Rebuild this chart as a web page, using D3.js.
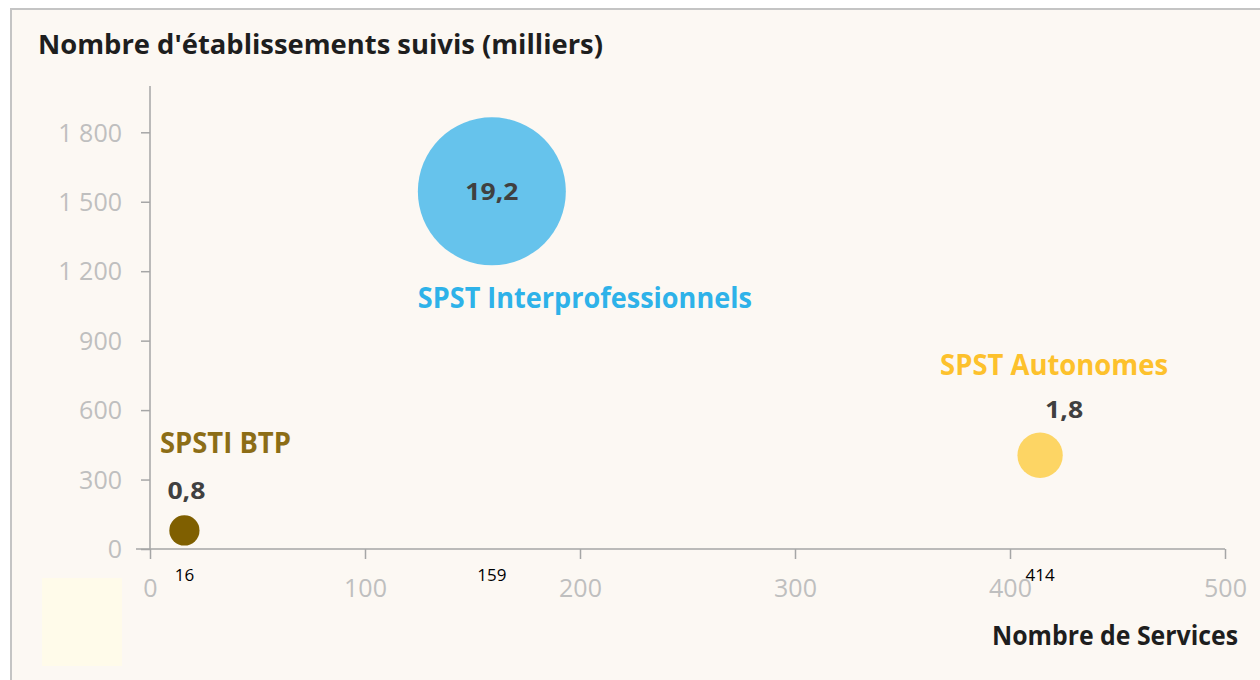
<!DOCTYPE html>
<html>
<head>
<meta charset="utf-8">
<script src="https://cdn.jsdelivr.net/npm/d3@7"></script>
<style>
  body { margin: 0; background: #fff; }
  svg { display: block; font-family: "Open Sans", sans-serif; }
</style>
</head>
<body>
<div id="chart"></div>
<script>
// données
const categories = ['SPSTI BTP', 'SPST Interprofessionnels', 'SPST Autonomes'];
const services = [16, 159, 414];            // nombre de services (axe x)
const etablissements = [80, 1545, 405];     // établissements suivis, milliers (axe y)
const salaries = [0.8, 19.2, 1.8];          // taille des bulles
const colors = ['#7f5f00', '#66c3ec', '#fdd564'];
const labelColors = ['#8c6d16', '#2eb2e9', '#fdc12c'];
const xTicks = [0, 100, 200, 300, 400, 500];
const yTicks = [0, 300, 600, 900, 1200, 1500, 1800];

const W = 1260, H = 680;
const margin = {left: 150, right: 35, top: 86, bottom: 131};

const fr = d3.formatLocale({decimal: ',', thousands: ' ', grouping: [3], currency: ['', ' €']});

const svg = d3.select('#chart').append('svg')
    .attr('width', W)
    .attr('height', H);

// fond + cadre
svg.append('rect')
    .attr('x', 11).attr('y', 9)
    .attr('width', W).attr('height', H)
    .attr('fill', '#fcf8f3')
    .attr('stroke', '#c4c4c4')
    .attr('stroke-width', 2);

// petit carré jaune pâle en bas à gauche
svg.append('rect')
    .attr('x', 42).attr('y', 578)
    .attr('width', 80).attr('height', 88)
    .attr('fill', '#fffbea');

// échelles
const x = d3.scaleLinear().domain([0, 500]).range([margin.left, W - margin.right]);
const y = d3.scaleLinear().domain([0, 2000]).range([H - margin.bottom, margin.top]);
const r = d3.scaleSqrt().domain([0, d3.max(salaries)]).range([0, 74]);

// axes
const xAxis = d3.axisBottom(x).tickValues(xTicks).tickSize(10).tickSizeOuter(0).tickPadding(20);
const yAxis = d3.axisLeft(y).tickValues(yTicks).tickSize(9).tickSizeOuter(0).tickPadding(19)
    .tickFormat(fr.format(','));

const gx = svg.append('g')
    .attr('transform', `translate(0,${y(0)})`)
    .call(xAxis);
const gy = svg.append('g')
    .attr('transform', `translate(${x(0)},0)`)
    .call(yAxis);

[gx, gy].forEach(g => {
    g.select('.domain').attr('stroke', '#a6a6a6').attr('stroke-width', 1.5);
    g.selectAll('.tick line').attr('stroke', '#a6a6a6').attr('stroke-width', 1.5);
    g.selectAll('.tick text')
        .attr('fill', '#bfbfbf')
        .style('font-size', '25px')
        .style('font-family', '"Open Sans", sans-serif');
});
gy.selectAll('.tick text').attr('dy', '0.35em');
gy.select('.domain').attr('d', `M0,${y(0)}V${margin.top}`);
gx.select('.domain').attr('d', `M${x(0) - 14},0H${x(500)}`);

// titres
svg.append('text')
    .attr('x', 38).attr('y', 54)
    .attr('fill', '#1e1e1e')
    .attr('font-weight', 700)
    .attr('font-size', 26)
    .attr('textLength', 565)
    .attr('lengthAdjust', 'spacingAndGlyphs')
    .text("Nombre d'établissements suivis (milliers)");

svg.append('text')
    .attr('x', 992).attr('y', 645)
    .attr('fill', '#1e1e1e')
    .attr('font-weight', 700)
    .attr('font-size', 26)
    .attr('textLength', 246)
    .attr('lengthAdjust', 'spacingAndGlyphs')
    .text('Nombre de Services');

// bulles
const data = categories.map((c, i) => ({
    name: c, sx: services[i], ey: etablissements[i], size: salaries[i],
    color: colors[i], labelColor: labelColors[i]
}));

// position des étiquettes par rapport au centre de la bulle
const labelLayout = [
    {vdx: 2, vdy: -31, ndx: 41, ndy: -77, nw: 131},
    {vdx: 0, vdy: 9, ndx: 93, ndy: 117, nw: 334},
    {vdx: 24, vdy: -37, ndx: 14, ndy: -80, nw: 228}
];

const bubble = svg.selectAll('.bubble').data(data).enter()
    .append('g')
    .attr('class', 'bubble')
    .attr('transform', d => `translate(${x(d.sx)},${y(d.ey)})`);

bubble.append('circle')
    .attr('r', d => r(d.size))
    .attr('fill', d => d.color);

bubble.append('text')
    .attr('x', (d, i) => labelLayout[i].vdx)
    .attr('y', (d, i) => labelLayout[i].vdy)
    .attr('text-anchor', 'middle')
    .attr('font-weight', 700)
    .attr('font-size', 24)
    .attr('fill', '#404040')
    .attr('textLength', d => d.size >= 10 ? 53 : 38)
    .attr('lengthAdjust', 'spacingAndGlyphs')
    .text(d => fr.format('.1f')(d.size));

bubble.append('text')
    .attr('x', (d, i) => labelLayout[i].ndx)
    .attr('y', (d, i) => labelLayout[i].ndy)
    .attr('text-anchor', 'middle')
    .attr('font-weight', 700)
    .attr('font-size', 28)
    .attr('fill', d => d.labelColor)
    .attr('textLength', (d, i) => labelLayout[i].nw)
    .attr('lengthAdjust', 'spacingAndGlyphs')
    .text(d => d.name);

// valeurs x sous l'axe
svg.selectAll('.xval').data(data).enter()
    .append('text')
    .attr('class', 'xval')
    .attr('x', d => x(d.sx))
    .attr('y', 581)
    .attr('text-anchor', 'middle')
    .attr('font-size', 17)
    .attr('fill', '#000')
    .text(d => d.sx);
</script>
</body>
</html>
